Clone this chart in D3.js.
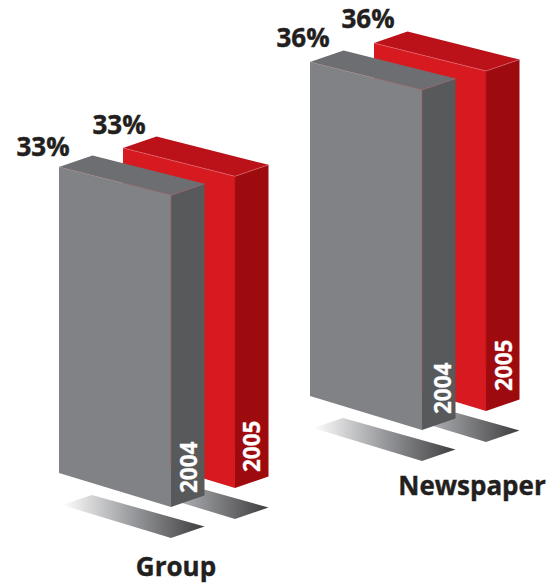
<!DOCTYPE html>
<html>
<head>
<meta charset="utf-8">
<script src="https://cdn.jsdelivr.net/npm/d3@7"></script>
<style>
html,body{margin:0;padding:0;background:#fff}
svg{display:block}
text{font-family:"Open Sans",sans-serif;font-weight:700}
</style>
</head>
<body>
<svg id="chart" width="551" height="583"></svg>
<script>
// Chart values
const categories = ["Group", "Newspaper"];
const years = ["2004", "2005"];
const values2004 = [33, 36];
const values2005 = [33, 36];
const valuesByYear = [values2004, values2005];

// Drawing layout: the oblique projection of each box
const faceWidth = 112, faceDrop = 34;
const depthX = 33.5, depthY = 11.5, leftTaper = 0.982, shadowGap = 31;
const palette = {
  "2004": {front: "#808285", top: "#6d6e71", side: "#58595b", edge: "#a98085", seam: "#a4585e"},
  "2005": {front: "#d71920", top: "#bb1119", side: "#9e0b0f", edge: "#e8787c", seam: "#b5141a"}
};
const valueNudge = [[[-16, -11], [-4, -14]], [[-7, -15], [-6, -15]]];
const yearNudge = [[[26, -14], [25, -16]], [[29, -16], [26, -20]]];
const categoryLabels = {Group: [176, 576], Newspaper: [472, 495]};

const svg = d3.select("#chart");
const xCat = d3.scalePoint().domain(categories).range([171, 422]);
const yCat = d3.scalePoint().domain(categories).range([507, 430]);
const xYear = d3.scalePoint().domain(years).range([0, 64]);
const yYear = d3.scalePoint().domain(years).range([0, -19]);
const height = d3.scaleLinear().domain([0, 36]).range([0, 340]);
const poly = d3.line();

const defs = svg.append("defs");
const grad = defs.append("linearGradient").attr("id", "shadowFade");
grad.append("stop").attr("offset", 0).attr("stop-color", "#ffffff");
grad.append("stop").attr("offset", 0.5).attr("stop-color", "#98999c");
grad.append("stop").attr("offset", 1).attr("stop-color", "#3d3d3f");

const boxes = categories.flatMap((c, ci) =>
  years.map((y, yi) => {
    const h = height(valuesByYear[yi][ci]);
    const bx = xCat(c) + xYear(y), by = yCat(c) + yYear(y);
    return {c, ci, y, yi, v: valuesByYear[yi][ci], h, bx, by};
  })
);
// Back row first, so the 2004 box overlaps the 2005 box
const order = boxes.slice().sort((a, b) => d3.descending(a.yi, b.yi));

const frontTopLeft = d => [d.bx - faceWidth, d.by - faceDrop - d.h * leftTaper];
const frontTopRight = d => [d.bx, d.by - d.h];
const backTopLeft = d => { const p = frontTopLeft(d); return [p[0] + depthX, p[1] - depthY]; };
const backTopRight = d => [d.bx + depthX, d.by - d.h - depthY];
const frontBotLeft = d => [d.bx - faceWidth, d.by - faceDrop];
const frontBotRight = d => [d.bx, d.by];
const backBotRight = d => [d.bx + depthX, d.by - depthY];

// Cast shadow: a flat parallelogram below each box
const shadow = d => {
  const tipX = d.bx - faceWidth + 3, tipY = d.by - faceDrop + shadowGap + 1;
  return [
    [tipX, tipY],
    [tipX + 30, tipY - 10],
    [d.bx + depthX, d.by + shadowGap - depthY],
    [d.bx, d.by + shadowGap]
  ];
};

const groups = svg.selectAll("g.box").data(order).join("g").attr("class", "box");

groups.append("path").attr("fill", "url(#shadowFade)").attr("d", d => poly(shadow(d)) + "Z");
groups.append("path").attr("fill", d => palette[d.y].front)
  .attr("d", d => poly([frontTopLeft(d), frontTopRight(d), frontBotRight(d), frontBotLeft(d)]) + "Z");
groups.append("path").attr("fill", d => palette[d.y].top)
  .attr("d", d => poly([frontTopLeft(d), backTopLeft(d), backTopRight(d), frontTopRight(d)]) + "Z");
groups.append("path").attr("fill", d => palette[d.y].side)
  .attr("d", d => poly([frontTopRight(d), backTopRight(d), backBotRight(d), frontBotRight(d)]) + "Z");
// Thin highlights where the faces meet
groups.append("path").attr("fill", "none").attr("stroke", d => palette[d.y].edge)
  .attr("stroke-width", 0.5)
  .attr("d", d => poly([frontTopLeft(d), frontTopRight(d), backTopRight(d)]));
groups.append("path").attr("fill", "none").attr("stroke", d => palette[d.y].seam)
  .attr("stroke-width", 0.6)
  .attr("d", d => poly([frontTopRight(d), [d.bx, d.by - 38]]));

// Year written up the side face
groups.append("text")
  .attr("transform", d => {
    const n = yearNudge[d.ci][d.yi];
    return `translate(${d.bx + n[0]},${d.by + n[1]}) rotate(-90)`;
  })
  .attr("fill", "#fff").attr("stroke", "#fff").attr("stroke-width", 0.3)
  .attr("font-size", 22.5).text(d => d.y);

// Value above each box
svg.selectAll("text.value").data(order).join("text").attr("class", "value")
  .attr("x", d => frontTopLeft(d)[0] + valueNudge[d.ci][d.yi][0])
  .attr("y", d => frontTopLeft(d)[1] + valueNudge[d.ci][d.yi][1])
  .attr("text-anchor", "middle").attr("font-size", 26).attr("fill", "#231f20")
  .attr("stroke", "#231f20").attr("stroke-width", 0.4)
  .text(d => d.v + "%");

// Category names
svg.selectAll("text.cat").data(categories).join("text").attr("class", "cat")
  .attr("x", c => categoryLabels[c][0]).attr("y", c => categoryLabels[c][1])
  .attr("text-anchor", "middle").attr("font-size", 26).attr("fill", "#231f20")
  .attr("stroke", "#231f20").attr("stroke-width", 0.4)
  .text(c => c);
</script>
</body>
</html>
